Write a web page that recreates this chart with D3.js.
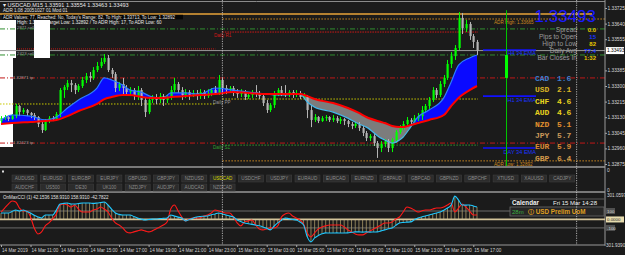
<!DOCTYPE html>
<html><head><meta charset="utf-8">
<script src="https://cdn.jsdelivr.net/npm/d3@7"></script>
<style>
html,body{margin:0;padding:0;background:#1b1b1b;}
svg{display:block;font-family:"Liberation Sans",Arial,sans-serif;}
</style></head><body>
<svg id="c" width="625" height="255"></svg>
<script>
// ---------- DATA (prices in 1e-5 units) ----------
const startTime = new Date(2019, 2, 14, 9, 0);   // first M15 bar
const barMinutes = 15;
const openPts = [133109,133125,133131,133120,133136,133191,133158,133169,133153,133142,
133131,133093,133060,133109,133125,133120,133147,133278,133294,133316,
133305,133278,133300,133333,133354,133344,133387,133409,133431,133453,
133387,133365,133289,133311,133289,133267,133278,133245,133278,133224,
133158,133224,133240,133224,133245,133224,133240,133278,133311,133278,
133251,133267,133251,133262,133245,133267,133245,133262,133278,133262,
133333,133289,133278,133289,133267,133256,133267,133240,133251,133267,
133256,133245,133207,133169,133196,133262,133278,133262,133251,133267,
133251,133262,133240,133245,133169,133115,133131,133109,133125,133131,
133115,133125,133109,133120,133109,133093,133082,133093,133071,133044,
133016,133027,132989,132962,132984,133000,132962,133006,133049,133071,
133093,133115,133104,133125,133136,133169,133191,133224,133278,133251,
133311,133344,133420,133463,133507,133671,133616,133638,133572,133540];
const closePts = [133125,133131,133120,133136,133191,133158,133169,133153,133142,133131,
133093,133060,133109,133125,133120,133147,133278,133294,133316,133305,
133278,133300,133333,133354,133344,133387,133409,133431,133453,133387,
133365,133289,133311,133289,133267,133278,133245,133278,133224,133158,
133224,133240,133224,133245,133224,133240,133278,133311,133278,133251,
133267,133251,133262,133245,133267,133245,133262,133278,133262,133333,
133289,133278,133289,133267,133256,133267,133240,133251,133267,133256,
133245,133207,133169,133196,133262,133278,133262,133251,133267,133251,
133262,133240,133245,133169,133115,133131,133109,133125,133131,133115,
133125,133109,133120,133109,133093,133082,133093,133071,133044,133016,
133027,132989,132962,132984,133000,132962,133006,133049,133071,133093,
133115,133104,133125,133136,133169,133191,133224,133278,133251,133311,
133344,133420,133463,133507,133671,133616,133638,133572,133540,133493];
const highPts = [133136,133142,133142,133147,133202,133196,133180,133175,133158,133153,
133136,133104,133120,133136,133136,133158,133289,133305,133333,133333,
133316,133311,133349,133371,133376,133403,133431,133453,133474,133469,
133398,133376,133322,133344,133305,133294,133289,133300,133289,133235,
133235,133251,133256,133262,133256,133251,133300,133344,133322,133294,
133283,133278,133278,133278,133283,133278,133283,133289,133300,133360,
133344,133305,133300,133300,133283,133283,133278,133267,133278,133305,
133273,133256,133224,133207,133273,133289,133300,133305,133278,133278,
133278,133273,133262,133251,133196,133147,133136,133136,133142,133136,
133142,133136,133131,133125,133115,133104,133104,133104,133082,133055,
133038,133038,133000,133000,133011,133011,133016,133060,133087,133109,
133131,133125,133142,133153,133191,133202,133240,133294,133289,133327,
133360,133442,133485,133523,133703,133698,133660,133649,133583,133551];
const lowPts = [133098,133115,133109,133115,133125,133136,133147,133136,133125,133115,
133076,133044,133055,133098,133109,133115,133131,133235,133278,133267,
133256,133267,133289,133316,133322,133333,133376,133398,133420,133376,
133344,133267,133273,133256,133251,133245,133224,133224,133191,133131,
133147,133207,133202,133207,133191,133207,133224,133267,133262,133224,
133235,133224,133240,133224,133229,133229,133235,133245,133251,133251,
133267,133256,133262,133245,133235,133240,133224,133229,133235,133240,
133229,133191,133153,133158,133180,133245,133245,133240,133240,133235,
133240,133229,133229,133125,133076,133104,133098,133104,133109,133104,
133104,133098,133093,133087,133076,133065,133071,133055,133027,133000,
133000,132973,132908,132940,132967,132940,132940,132989,133038,133060,
133082,133087,133093,133109,133115,133153,133175,133213,133235,133240,
133294,133333,133398,133442,133496,133583,133594,133551,133507,133469];

// moving averages (bar index -> value)
const maIndex = [0,3,8,12,15,18,21,26,28,30,33,35,38,41,44,46,50,54,58,63,67,72,75,81,83,85,90,94,97,99,103,104,106,108,109,111,113,116,120,122,124,127,129];
const maSlowPts = [133093,133098,133104,133109,133115,133136,133164,133202,133229,133240,133251,133251,133240,133235,133235,133240,133245,133251,133256,133267,133262,133256,133256,133256,133245,133229,133207,133180,133153,133131,133104,133098,133082,133076,133076,133087,133098,133115,133142,133191,133235,133278,133300];
const maFastPts = [133115,133142,133136,133115,133131,133180,133224,133289,133344,133333,133305,133278,133267,133240,133235,133262,133262,133256,133289,133278,133267,133256,133251,133256,133213,133185,133158,133125,133093,133076,133016,133006,132989,133006,133022,133076,133131,133169,133235,133322,133414,133453,133469];

// CCI panel
const cciMain = [76,76,76,95,112,100,112,95,76,50,29,18,53,53,53,112,182,190,194,182,
182,188,194,194,194,190,194,200,206,171,120,76,60,53,53,53,35,18,5,-6,
0,4,6,10,14,18,53,40,28,18,-18,0,15,29,35,38,41,55,65,76,
65,53,40,29,-6,-25,-41,-50,-58,-65,-75,-88,-105,-123,-80,-41,-10,18,10,0,
-6,-30,-65,-206,-265,-218,-190,-170,-159,-160,-160,-159,-160,-160,-159,-152,-147,-147,-150,-147,
-150,-148,-147,-135,-123,-110,-100,-70,-41,-35,-32,-29,-5,18,30,42,53,65,76,88,
110,135,171,276,229,171,170,171,160,147];
const cciSignal = [88,135,182,218,206,135,100,100,29,-100,-171,-147,-76,-41,6,65,171,182,171,147,
171,123,88,88,88,112,123,147,123,88,18,-41,-65,-100,-147,-159,-147,-135,-123,-135,
-147,-135,-112,-88,-65,-29,123,171,100,29,-18,6,18,18,18,41,53,76,112,100,
88,76,76,29,-41,-76,-29,-18,-6,-65,-112,-123,-112,-100,-100,-76,29,65,76,41,
18,-6,-53,-159,-206,-159,-112,-88,-76,-65,-65,-65,-65,-88,-123,-147,-171,-182,-182,-159,
-135,-112,-88,-65,-41,-41,-29,6,29,88,147,135,112,88,100,112,112,123,135,135,
147,171,194,88,135,182,147,100,53,53];
const cciLevels = [100, -100];
const cciTitle = "OnMaxCCI (1) 42.1536 158.9310 158.9310 -42.7822";

// price levels
const bidPrice = 1.33493;
const priceTicks = [1.32875,1.32960,1.33045,1.33130,1.33215,1.33300,1.33385,1.33555,1.33640,1.33725];
const prevPivot = 1.33202, prevR1 = 1.33502;
const dailyPP = 1.33229, dailyR1 = 1.33594, dailyS1 = 1.32978;
const adrHigh = 1.33665, adrLow = 1.32892, adrBox = 1.33692;
const tradeLevels = [1.33611, 1.33469];      // green dash-dot
const tpLevels = [1.33344, 1.32989];         // red dash-dot
const emaLevels = [1.33496, 1.33245, 1.32962];
const emaNames = ["H4 34 EMA", "H1 34 EMA", "DAY 34 EMA"];
const dayBar = {o:1.33344, c:1.33469, h:1.33713, l:1.32870};

// side panel texts
const infoLabels = ["Spread","Pips to Open","High to Low","Daily Avg","Bar Closes In"];
const infoValues = ["0.0","15","82","77.4","1:32"];
const currencies = ["CAD","USD","CHF","AUD","NZD","JPY","EUR","GBP"];
const strengths = [1.6,2.1,4.6,4.6,5.1,5.7,5.9,6.4];

// symbol buttons
const buttonsRow1 = ["AUDUSD","EURUSD","EURGBP","EURJPY","GBPUSD","GBPJPY","NZDUSD","USDCAD","USDCHF","USDJPY","EURAUD","EURCAD","EURNZD","GBPAUD","GBPCAD","GBPNZD","GBPCHF","XTIUSD","XAUUSD","CADJPY"];
const buttonsRow2 = ["AUDCHF","US500","DE30","UK100","NZDJPY","AUDJPY","AUDCAD","NZDCAD"];
const activeSymbol = "USDCAD";

// ---------- DRAW ----------
const svg = d3.select("#c");
const W = 625, H = 255, axisX = 605;
const mainTop = 2, mainBottom = 167, btnTop = 168, btnBottom = 192, cciTop = 193, cciBottom = 245;
const bg = "#1b1b1b";
const tAt = k => new Date(startTime.getTime() + k * barMinutes * 60000);
const times = closePts.map((_, i) => tAt(i));
const x = d3.scaleTime().domain([times[0], times[times.length - 1]]).range([1, 477]);
const y = d3.scaleLinear().domain([1.32875, 1.33725]).range([164, 8]);
const yc = d3.scaleLinear().domain([-301.939, 301.0597]).range([245, 194]);
const dayStart = new Date(2019, 2, 15, 0, 0), nextDay = new Date(2019, 2, 16, 0, 0);
const xEnd = x(times[times.length - 1]) + 1;

svg.append("rect").attr("width", W).attr("height", H).attr("fill", bg);

// left white label boxes
svg.append("rect").attr("x", 0).attr("y", 20).attr("width", 13).attr("height", 127).attr("fill", "#ffffff");
svg.append("rect").attr("x", 0).attr("y", 20).attr("width", 16).attr("height", 38).attr("fill", "#ffffff");

// top text
const T = (tx, ty, s, size, color, opts = {}) => {
  const e = svg.append("text").attr("x", tx).attr("y", ty).text(s)
    .attr("font-size", size).attr("fill", color);
  if (opts.anchor) e.attr("text-anchor", opts.anchor);
  if (opts.weight) e.attr("font-weight", opts.weight);
  if (opts.family) e.attr("font-family", opts.family);
  return e;
};
svg.append("line").attr("x1", 0).attr("x2", axisX).attr("y1", 1.5).attr("y2", 1.5).attr("stroke", "#8a8a8a");

// levels
const hline = (p, x1, x2, color, dash, w = 1) => svg.append("line")
  .attr("x1", x1).attr("x2", x2).attr("y1", y(p)).attr("y2", y(p))
  .attr("stroke", color).attr("stroke-width", w).attr("stroke-dasharray", dash);
tradeLevels.forEach(p => hline(p, 0, axisX, "#2f8f2f", "5,2,1,2"));
tpLevels.forEach(p => hline(p, 0, axisX, "#c01818", "5,2,1,2"));
hline(prevR1, 17, x(dayStart) - 7, "#c01818", "1,1");
hline(prevPivot, 0, x(dayStart) - 7, "#c8c800", "1.5,1.5");
hline(dailyR1, x(dayStart), xEnd, "#d01818", "1.5,1");
hline(dailyPP, x(dayStart), xEnd, "#c8c800", "1.5,1.5");
hline(dailyS1, x(dayStart), xEnd, "#2f9f2f", "1.5,1.5");
hline(adrHigh, x(dayStart), axisX, "#d08a20", "1.5,1.5");
hline(adrLow, x(dayStart), axisX, "#d08a20", "1.5,1.5");
hline(adrBox, 0, 592, "#e8a53a", null, 1.5);
hline(bidPrice, 0, axisX, "#9a9a9a", null);

T(3, 7, "▾ USDCAD,M15  1.33591 1.33554 1.33463 1.33493", 5.5, "#e8e8e8");
T(3, 12.2, "ADR 1.08 20051027 01 Mod 01", 4.6, "#e0e0e0");
svg.append("rect").attr("x", 2).attr("y", 14.8).attr("width", 181).attr("height", 4.6).attr("fill", "#050505");
T(3, 18.6, "ADR Values: 77, Reached: No, Today's Range: 82, To High: 1.33713, To Low: 1.32892", 4.5, "#e8e8e8");
T(17, 24, "High: 1.33713  Target Low: 1.32892 / To ADR High: 17, To ADR Low: 60", 4.6, "#e8e8e8");
svg.append("rect").attr("x", 34).attr("y", 20).attr("width", 16).attr("height", 38).attr("fill", "#ffffff");
T(17, 28.5, "2871 sell", 4.3, "#9a9a9a");
T(17, 54.5, "2423 sell", 4.3, "#9a9a9a");
T(13, 78.5, "1.32871 tp", 4.3, "#9a9a9a");
T(13, 144, "1.32423 tp", 4.3, "#9a9a9a");
T(214, 37, "Daily R1", 4.6, "#d01818");
T(213, 104, "Daily PP", 4.6, "#9a9a9a");
T(213, 149, "Daily S1", 4.6, "#2f9f2f");
T(494, 23.5, "ADR High: " + adrHigh.toFixed(5), 4.6, "#d08a20");
T(494, 166, "ADR Low: " + adrLow.toFixed(5), 4.6, "#d08a20");

// MA band
const maPts = maIndex.map((k, j) => ({t: tAt(k), f: maFastPts[j] / 1e5, s: maSlowPts[j] / 1e5}));
const curve = d3.curveMonotoneX;
const defs = svg.append("defs");
defs.append("clipPath").attr("id", "above").append("path")
  .attr("d", d3.area().x(d => x(d.t)).y0(0).y1(d => y(d.s)).curve(curve)(maPts));
defs.append("clipPath").attr("id", "below").append("path")
  .attr("d", d3.area().x(d => x(d.t)).y0(d => y(d.s)).y1(mainBottom).curve(curve)(maPts));
const band = d3.area().x(d => x(d.t)).y0(d => y(d.s)).y1(d => y(d.f)).curve(curve);
svg.append("path").attr("d", band(maPts)).attr("fill", "#0a0aff").attr("clip-path", "url(#above)");
svg.append("path").attr("d", band(maPts)).attr("fill", "#7c7c7c").attr("clip-path", "url(#below)");

// candles
const candles = closePts.map((c, i) => ({t: times[i], o: openPts[i] / 1e5, h: highPts[i] / 1e5, l: lowPts[i] / 1e5, c: c / 1e5}));
const bull = "#00ff00", bear = "#b4b4b4";
const gC = svg.append("g");
gC.selectAll("line").data(candles).join("line")
  .attr("x1", d => Math.round(x(d.t)) + 0.5).attr("x2", d => Math.round(x(d.t)) + 0.5)
  .attr("y1", d => y(d.h)).attr("y2", d => y(d.l))
  .attr("stroke", d => d.c >= d.o ? bull : bear).attr("stroke-width", 1);
gC.selectAll("rect").data(candles).join("rect")
  .attr("x", d => Math.round(x(d.t)) - 0.5).attr("width", 2.2)
  .attr("y", d => y(Math.max(d.o, d.c)))
  .attr("height", d => Math.max(1, Math.abs(y(d.o) - y(d.c))))
  .attr("fill", d => d.c >= d.o ? bull : bear);

// MA lines
const fastLine = d3.line().x(d => x(d.t)).y(d => y(d.f)).curve(curve);
const slowLine = d3.line().x(d => x(d.t)).y(d => y(d.s)).curve(curve);
svg.append("path").attr("d", fastLine(maPts)).attr("fill", "none").attr("stroke", "#2b7dff").attr("stroke-width", 1.2).attr("clip-path", "url(#above)");
svg.append("path").attr("d", fastLine(maPts)).attr("fill", "none").attr("stroke", "#45b8ea").attr("stroke-width", 1.2).attr("clip-path", "url(#below)");
svg.append("path").attr("d", slowLine(maPts)).attr("fill", "none").attr("stroke", "#ff0000").attr("stroke-width", 2);

// EMA level lines (blue)
emaLevels.forEach((p, k) => {
  hline(p, 483, 536, "#1010ff", null, 1.6);
  T(536, y(p) + (k === 0 ? 4.5 : 5.5), emaNames[k], 5.6, "#1a33ff", {anchor: "end"});
});

// daily bar
const xd = x(tAt(137));
svg.append("line").attr("x1", xd).attr("x2", xd).attr("y1", y(dayBar.h)).attr("y2", mainBottom - 1).attr("stroke", "#00c800").attr("stroke-width", 1);
svg.append("rect").attr("x", xd - 1.5).attr("width", 3).attr("y", y(dayBar.c)).attr("height", y(dayBar.o) - y(dayBar.c)).attr("fill", "#00ff00");

// info panel
T(596, 22, bidPrice.toFixed(5), 17, "#1a1aff", {anchor: "end"});
const infoColors = ["#e6c800", "#1a33ff", "#e6c800", "#1a33ff", "#e6c800"];
infoLabels.forEach((s, k) => {
  const yy = 31.5 + k * 7.2;
  T(577, yy, s, 6.6, "#9c9c9c", {anchor: "end"});
  T(596, yy, infoValues[k], 6, infoColors[k], {anchor: "end", weight: "bold"});
});
const curColors = ["#3f7fd0", "#d9b425", "#e6d21e", "#e6d21e", "#e0902e", "#c9995a", "#d98a35", "#d0984a"];
currencies.forEach((c, k) => {
  const yy = 81 + k * 11.4;
  T(535, yy, c, 8, curColors[k], {family: "Liberation Mono, monospace", weight: "bold"});
  T(557, yy, strengths[k].toFixed(1), 8, curColors[k], {family: "Liberation Mono, monospace", weight: "bold"});
});

// right price axis
const yAxis = d3.axisRight(y).tickValues(priceTicks).tickFormat(d3.format(".5f")).tickSize(2);
const ga = svg.append("g").attr("transform", `translate(${axisX},0)`).call(yAxis);
ga.select(".domain").remove();
ga.selectAll("line").attr("stroke", "#aaa");
ga.selectAll("text").attr("fill", "#d8d8d8").attr("font-size", 4.8).attr("x", 2.5);
svg.append("rect").attr("x", axisX + 1).attr("y", y(bidPrice) - 3.5).attr("width", 18).attr("height", 7).attr("fill", "#ffffff");
T(axisX + 2, y(bidPrice) + 1.8, bidPrice.toFixed(5), 4.8, "#000");

// panel separators
[mainBottom, btnBottom].forEach(yy => svg.append("line").attr("x1", 0).attr("x2", axisX).attr("y1", yy).attr("y2", yy).attr("stroke", "#9a9a9a").attr("stroke-width", 1.5));
svg.append("line").attr("x1", 0).attr("x2", axisX).attr("y1", cciBottom).attr("y2", cciBottom).attr("stroke", "#9a9a9a");
svg.append("line").attr("x1", axisX).attr("x2", axisX).attr("y1", 0).attr("y2", cciBottom).attr("stroke", "#9a9a9a");

// buttons panel
svg.append("rect").attr("x", 2).attr("y", 170.5).attr("width", 2).attr("height", 2).attr("fill", "#ddd");
T(607, 172, "0", 4.8, "#d8d8d8");
T(607, 192, "0", 4.8, "#d8d8d8");
const btn = (label, k, row) => {
  const bx = 12 + k * 28.3, by = row === 0 ? 175 : 184;
  svg.append("rect").attr("x", bx).attr("y", by).attr("width", 25).attr("height", 7)
    .attr("fill", "#2c2c2c").attr("stroke", "#3e3e3e").attr("stroke-width", 0.6);
  T(bx + 12.5, by + 5.2, label, 4.6, label === activeSymbol ? "#d6d600" : "#8a8a8a", {anchor: "middle"});
};
buttonsRow1.forEach((s, k) => btn(s, k, 0));
buttonsRow2.forEach((s, k) => btn(s, k, 1));

// CCI panel
T(3, 199, cciTitle, 4.5, "#e0e0e0");
cciLevels.forEach(v => svg.append("line").attr("x1", 0).attr("x2", axisX).attr("y1", yc(v)).attr("y2", yc(v)).attr("stroke", "#6a6a6a"));
svg.append("g").selectAll("line").data(cciMain).join("line")
  .attr("x1", (v, i) => x(times[i])).attr("x2", (v, i) => x(times[i]))
  .attr("y1", yc(0)).attr("y2", v => yc(v)).attr("stroke", "#a89868").attr("stroke-width", 0.8);
svg.append("line").attr("x1", 0).attr("x2", axisX).attr("y1", yc(0)).attr("y2", yc(0)).attr("stroke", "#d2c39a").attr("stroke-width", 1.8);
const cl = d3.line().x((v, i) => x(times[i])).y(v => yc(v)).curve(d3.curveMonotoneX);
svg.append("path").attr("d", cl(cciSignal)).attr("fill", "none").attr("stroke", "#ff1a1a").attr("stroke-width", 1.1);
svg.append("path").attr("d", cl(cciMain)).attr("fill", "none").attr("stroke", "#1ec8ff").attr("stroke-width", 1.1);
T(607, 197, "301.0597", 4.6, "#d8d8d8");
T(604.5, 246.5, "-301.9390", 4.6, "#d8d8d8");
[[100, "100"], [-100, "-100"]].forEach(([v, s]) => {
  svg.append("rect").attr("x", axisX + 1).attr("y", yc(v) - 3).attr("width", 9).attr("height", 6).attr("fill", "#505050");
  T(axisX + 2, yc(v) + 1.7, s, 4.4, "#d8d8d8");
});
svg.append("rect").attr("x", axisX + 1).attr("y", yc(0) - 3).attr("width", 18).attr("height", 6).attr("fill", "#e8dcae");
T(axisX + 2, yc(0) + 1.7, "0.0000", 4.4, "#222");

// calendar
svg.append("rect").attr("x", 510).attr("y", 207).attr("width", 94).attr("height", 9).attr("fill", "#262626").attr("stroke", "#6a6a6a").attr("stroke-width", 0.8);
svg.append("line").attr("x1", 510).attr("x2", 604).attr("y1", 199).attr("y2", 199).attr("stroke", "#6a6a6a").attr("stroke-width", 0.8);
T(512, 205, "Calendar", 6.3, "#f0f0f0", {weight: "bold"});
T(553, 205, "Fri 15 Mar 14:28", 6, "#f0f0f0");
T(512, 213.8, "28m", 6, "#3cb043");
T(528, 213.8, "ⓘ USD Prelim UoM", 6.3, "#e0a020", {weight: "bold"});

// vertical separators
[dayStart, nextDay].forEach(d => svg.append("line").attr("x1", x(d)).attr("x2", x(d)).attr("y1", 0).attr("y2", cciBottom)
  .attr("stroke", "#d0d0d0").attr("stroke-dasharray", "1.2,1.2").attr("stroke-width", 0.8));

// time axis
const tickTimes = times.filter((_, i) => i % 8 === 0);
const fmt = d3.timeFormat("%-d %b %H:%M");
const xAxis = d3.axisBottom(x).tickValues(tickTimes).tickSize(2)
  .tickFormat((d, i) => i === 0 ? "14 Mar 2019" : fmt(d));
const gx = svg.append("g").attr("transform", `translate(0,${cciBottom})`).call(xAxis);
gx.select(".domain").remove();
gx.selectAll("line").attr("stroke", "#aaa");
gx.selectAll("text").attr("fill", "#d0d0d0").attr("font-size", 4.6).attr("text-anchor", "start").attr("dx", 0.5).attr("y", 4);
</script>
</body></html>
